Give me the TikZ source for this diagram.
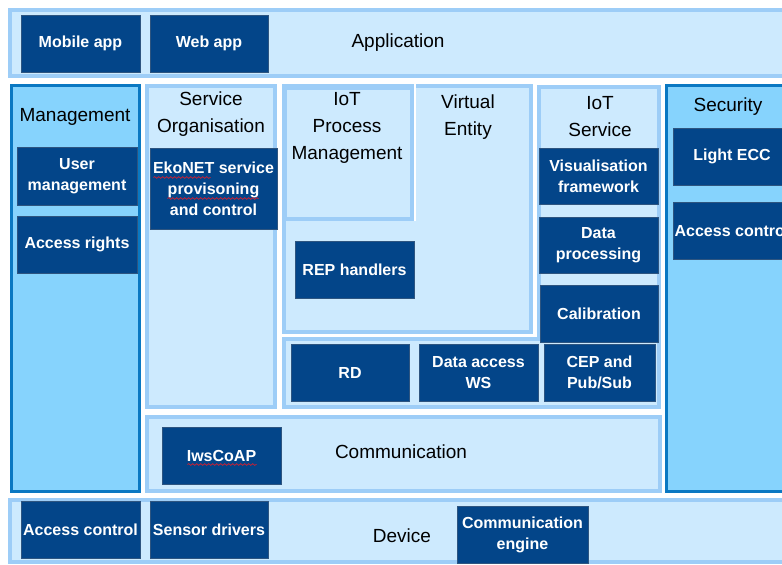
\documentclass[tikz,border=0pt]{standalone}
\usepackage{fontspec}
\setmainfont{Liberation Sans}
\usetikzlibrary{fit,calc,decorations.pathmorphing}
\definecolor{dblue}{HTML}{034589}
\definecolor{dline}{HTML}{2E5580}
\definecolor{lfill}{HTML}{CDEAFE}
\definecolor{lline}{HTML}{9DCDF7}
\definecolor{mfill}{HTML}{86D3FD}
\definecolor{mline}{HTML}{0A78C2}
\definecolor{spell}{HTML}{D02030}
\tikzset{
  lpanel/.style={fill=lfill, draw=lline, line width=4pt, inner sep=0pt},
  mpanel/.style={fill=mfill, draw=mline, line width=3pt, inner sep=0pt},
  dbox/.style={fill=dblue, draw=dline, line width=0.8pt, text=white, inner sep=0pt,
    align=center, font=\bfseries\fontsize{16}{21}\selectfont},
  title/.style={text=black, align=center, inner sep=0pt, font=\fontsize{19}{27}\selectfont},
  wavy/.style={draw=spell, line width=0.7pt, decorate,
    decoration={snake, amplitude=0.9pt, segment length=4pt}},
}
\begin{document}
\begin{tikzpicture}[x=1pt,y=-1pt]
\useasboundingbox (0,0) rectangle (782,565);
\clip (0,0) rectangle (782,565);
% panels
\node[lpanel, fit={(10,10)(800,76)}] (app) {};
\node[lpanel, fit={(10,500)(800,562)}] (dev) {};
\node[mpanel, fit={(11.5,85.5)(139,491.5)}] (mgmt) {};
\node[mpanel, fit={(666,85)(800,491.5)}] (sec) {};
\node[lpanel, fit={(147,86)(275,406.5)}] (so) {};
\node[lpanel, fit={(283.5,86)(531,331.5)}] (ve) {};
\node[lpanel, fit={(285,88)(412,219)}] (ipm) {};
\draw[white, line width=2.5pt] (415,84) -- (415,221);
\node[lpanel, fit={(539,87)(659,338)}] (ios) {};
\node[lpanel, fit={(284,338.5)(659,406.5)}] (rdrow) {};
\node[lpanel, fit={(147,416.5)(660,491)}] (comm) {};
% titles
\node[title] (tapp) at (398,43) {Application};
\node[title] (tmgmt) at (75,117) {Management};
\node[title] (tso) at (211,114) {Service\\Organisation};
\node[title] (tipm) at (347,128) {IoT\\Process\\Management};
\node[title] (tve) at (468,117) {Virtual\\Entity};
\node[title] (tios) at (600,117) {IoT\\Service};
\node[title] (tsec) at (728,107) {Security};
\node[title] (tcomm) at (401,452) {Communication};
\node[title] (tdev) at (402,536) {Device};
% dark boxes
\node[dbox, minimum width=119pt, minimum height=57pt] (mob) at (80.5,43.5) {Mobile app};
\node[dbox, minimum width=118pt, minimum height=57pt] (web) at (209,43.5) {Web app};
\node[dbox, minimum width=120pt, minimum height=58pt] (um) at (77,176) {User\\management};
\node[dbox, minimum width=120pt, minimum height=57pt] (ar) at (77,244.5) {Access rights};
\node[dbox, minimum width=127pt, minimum height=81pt] (eko) at (213.5,188.5) {EkoNET service\\provisoning\\and control};
\node[dbox, minimum width=119pt, minimum height=57pt] (rep) at (354.5,269.5) {REP handlers};
\node[dbox, minimum width=119pt, minimum height=56pt] (vis) at (598.5,176) {Visualisation\\framework};
\node[dbox, minimum width=119pt, minimum height=56pt] (dp) at (598.5,245) {Data\\processing};
\node[dbox, minimum width=118pt, minimum height=57pt] (cal) at (599,313.5) {Calibration};
\node[dbox, minimum width=118pt, minimum height=57pt] (ecc) at (732,156.5) {Light ECC};
\node[dbox, minimum width=118pt, minimum height=57pt] (sac) at (732,230.5) {Access control};
\node[dbox, minimum width=118pt, minimum height=57pt] (rd) at (350,372.5) {RD};
\node[dbox, minimum width=119pt, minimum height=57pt] (daws) at (478.5,372.5) {Data access\\WS};
\node[dbox, minimum width=111pt, minimum height=57pt] (cep) at (599.5,372.5) {CEP and\\Pub/Sub};
\node[dbox, minimum width=119pt, minimum height=57pt] (coap) at (221.5,455.5) {IwsCoAP};
\node[dbox, minimum width=119pt, minimum height=57pt] (dac) at (80.5,529.5) {Access control};
\node[dbox, minimum width=118pt, minimum height=57pt] (sd) at (209,529.5) {Sensor drivers};
\node[dbox, minimum width=131pt, minimum height=57pt] (ce) at (522.5,534.5) {Communication\\engine};
% spell-check underlines
\path[wavy] ($(eko.center)+(-60,-11)$) -- ($(eko.center)+(-3,-11)$);
\path[wavy] ($(eko.center)+(-46,10)$) -- ($(eko.center)+(45,10)$);
\path[wavy] ($(coap.center)+(-34,9)$) -- ($(coap.center)+(35,9)$);
\end{tikzpicture}
\end{document}
